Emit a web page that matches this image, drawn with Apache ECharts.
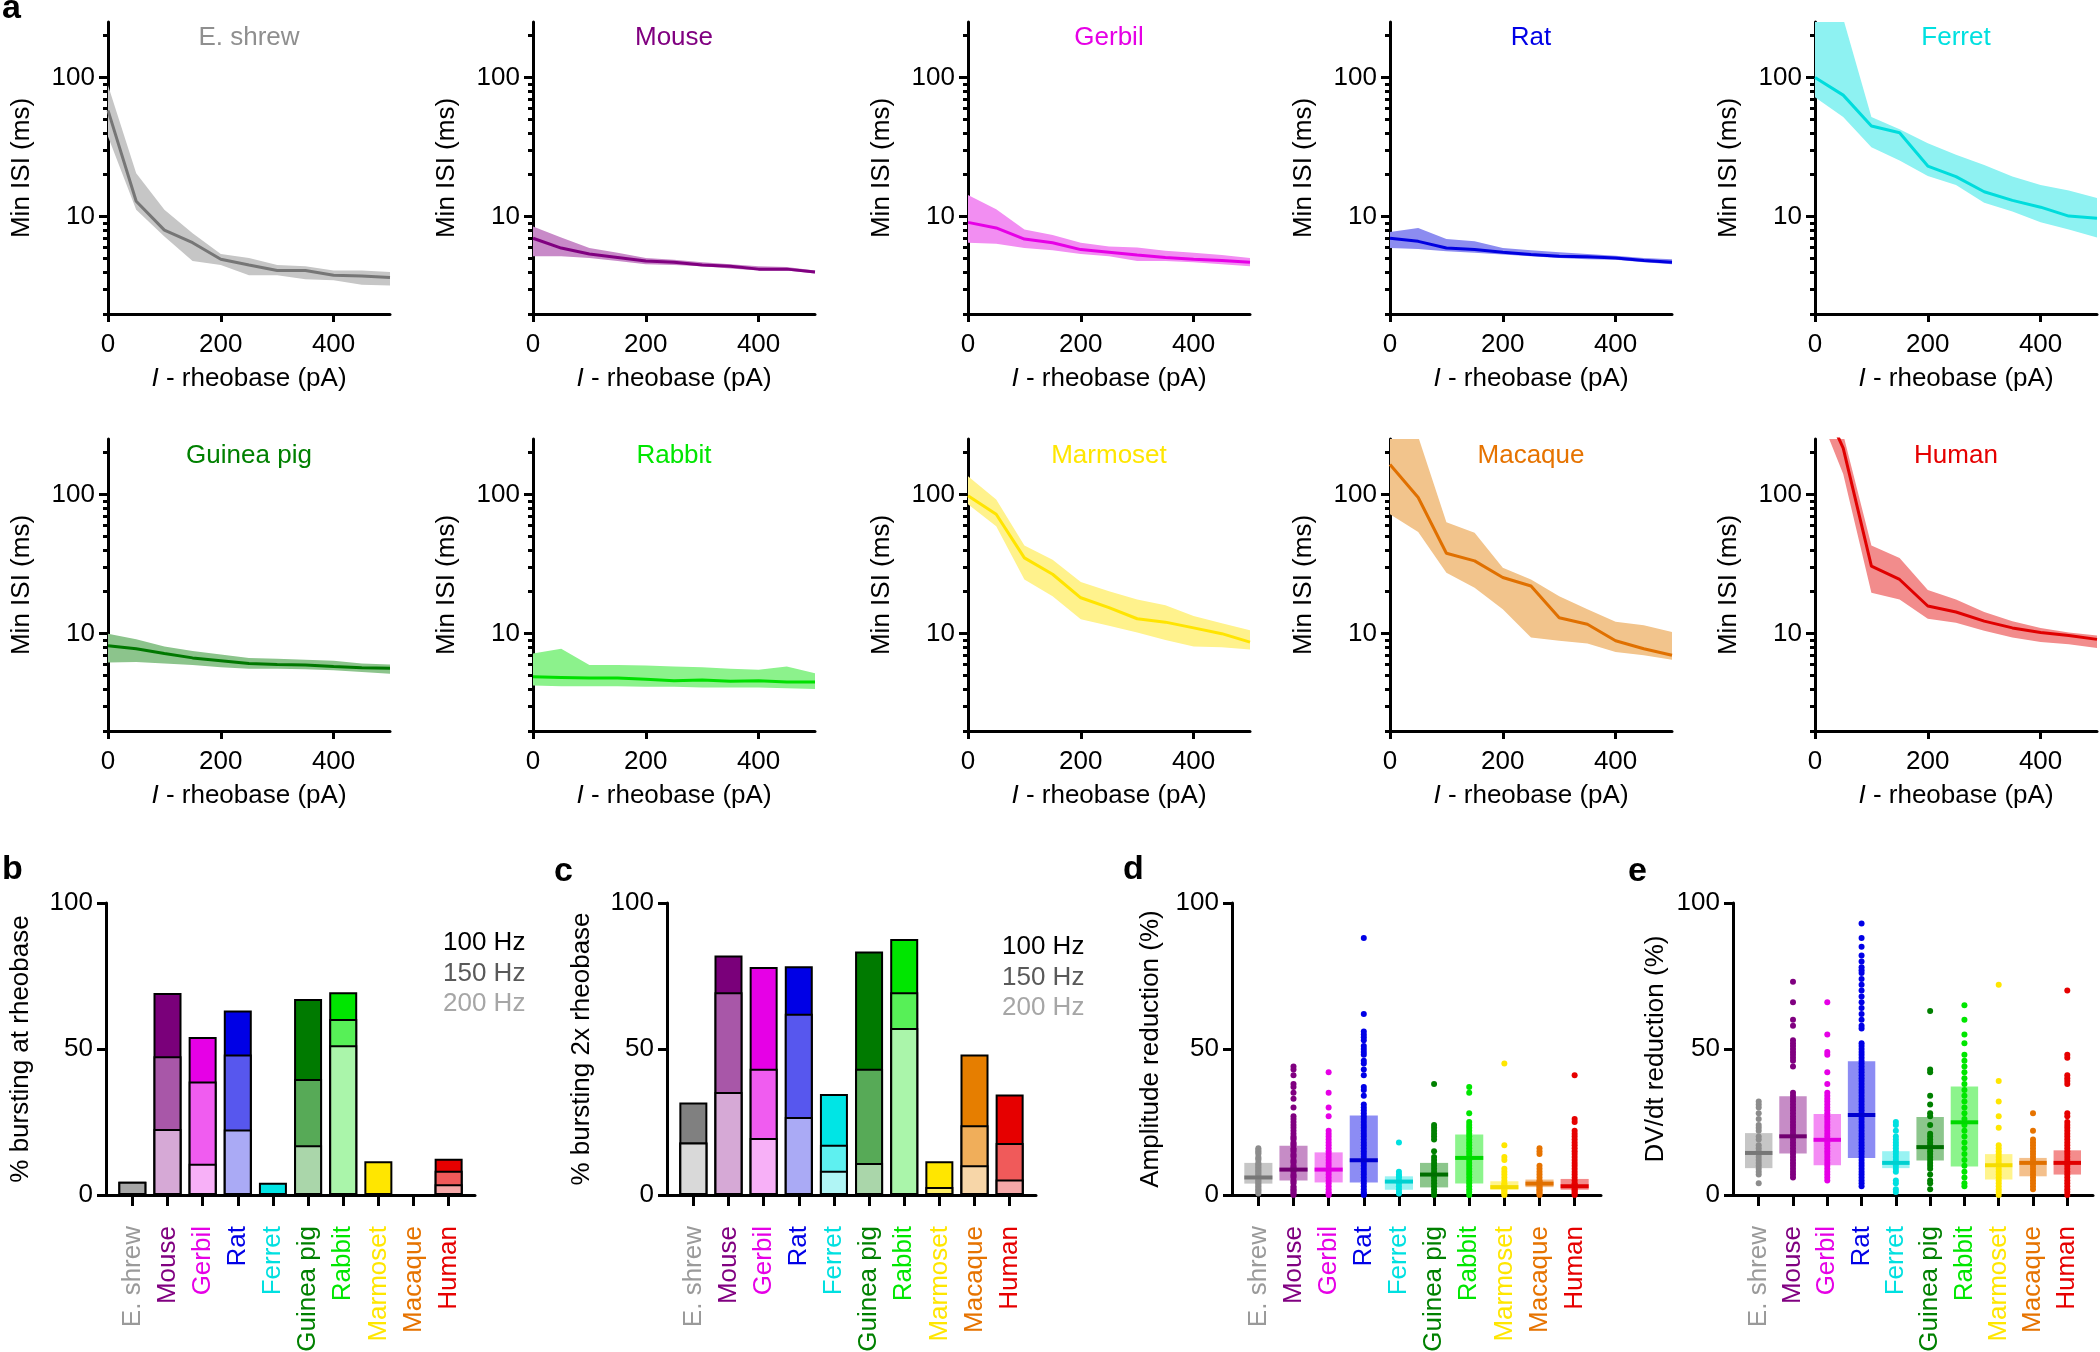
<!DOCTYPE html>
<html><head><meta charset="utf-8">
<script src="https://cdn.jsdelivr.net/npm/echarts@6/dist/echarts.min.js"></script>
<style>html,body{margin:0;padding:0;background:#fff}#c{width:2100px;height:1352px}</style>
</head><body><div id="c"></div>
<script>
// ---------------- DATA ----------------
const species = ['E. shrew','Mouse','Gerbil','Rat','Ferret','Guinea pig','Rabbit','Marmoset','Macaque','Human'];
const current = [0,50,100,150,200,250,300,350,400,450,500];
const currentTicks = [0,200,400];
const isiTicks = [10,100];
const isiMinorTicks = [2,3,4,5,6,7,8,9,20,30,40,50,60,70,80,90,200];
const pctTicks = [0,50,100];
const catIdx = [0,1,2,3,4,5,6,7,8,9];

// Min ISI (ms): mean, lower and upper band edge per species
const isiMean = [
 [58,12.9,8.0,6.5,4.95,4.5,4.1,4.1,3.8,3.75,3.66],
 [7.0,5.95,5.4,5.1,4.8,4.7,4.5,4.4,4.2,4.2,4.0],
 [9.1,8.3,6.9,6.5,5.8,5.55,5.3,5.1,4.95,4.85,4.7],
 [7.0,6.65,5.95,5.8,5.55,5.35,5.2,5.15,5.05,4.85,4.7],
 [100,74.6,44.8,40,23.1,19.4,15.1,13.1,11.7,10.1,9.75],
 [8.2,7.8,7.2,6.7,6.4,6.1,6.0,5.95,5.8,5.7,5.65],
 [4.9,4.85,4.8,4.8,4.7,4.6,4.65,4.55,4.6,4.5,4.5],
 [98,72,35,26.7,18.1,15.4,12.8,12.1,11.0,10.0,8.7],
 [164,95,37.8,33.3,25.3,22,13.0,11.7,8.9,7.8,7.0],
 [600,215,30.6,24.5,15.8,14.3,12.3,11.0,10.2,9.7,9.1]
];
const isiLow = [
 [37.6,11.2,7.2,4.8,4.5,3.8,3.8,3.56,3.5,3.25,3.2],
 [5.2,5.2,5.05,4.8,4.55,4.5,4.4,4.25,4.1,4.1,3.9],
 [6.5,6.4,5.95,5.75,5.4,5.2,4.8,4.8,4.7,4.55,4.4],
 [5.95,5.85,5.65,5.5,5.35,5.2,5.05,4.95,4.9,4.7,4.55],
 [72,52,31.5,25.3,19.6,16.9,12.6,10.9,9.1,8.1,7.1],
 [6.2,6.25,6.1,5.95,5.75,5.6,5.6,5.55,5.45,5.3,5.15],
 [4.25,4.2,4.2,4.2,4.15,4.15,4.1,4.1,4.1,4.05,4.0],
 [85,59,24.5,18.6,12.7,11.4,10.2,9.0,8.1,8.0,7.7],
 [72,53.7,27.4,21.4,15,9.4,8.9,8.5,7.4,7.0,6.5],
 [450,140,19.7,17.6,12.8,12.0,10.5,9.4,8.7,8.4,7.9]
];
const isiHigh = [
 [88,20.5,11.2,7.6,5.4,5.05,4.5,4.4,4.1,4.1,4.0],
 [8.5,7.1,5.95,5.5,5.05,4.9,4.7,4.55,4.4,4.35,4.1],
 [14.3,11.3,8.1,7.4,6.5,6.1,6.0,5.7,5.5,5.3,5.05],
 [7.75,8.3,6.9,6.65,5.95,5.75,5.55,5.4,5.25,5.05,4.95],
 [400,265,52,42.4,33.7,27.8,23.5,19.4,16.9,15.4,13.6],
 [10,9.1,8.1,7.5,7.1,6.7,6.6,6.5,6.4,6.1,6.0],
 [7.2,7.8,5.95,5.95,5.9,5.8,5.75,5.6,5.5,5.8,5.2],
 [135,92,43,34,23.5,20.2,17.6,16,13.4,11.9,10.6],
 [350,260,63,53,29.8,24.5,18.6,15,12.2,11.5,10.3],
 [900,270,43,35,20.6,17.6,14.3,12.3,11.0,10.2,9.7]
];

// % bursting (cumulative, by frequency threshold)
const rheo100 = [4.5,69.2,54.1,63.2,4.2,67.1,69.4,11.6,0,12.4];
const rheo150 = [4.5,47.5,38.9,48.1,0,39.7,60.3,0,0,8.3];
const rheo200 = [0,22.6,10.7,22.4,0,17.0,51.3,0,0,3.7];
const twox100 = [31.7,82.0,78.1,78.3,34.6,83.4,87.7,11.6,48.1,34.4];
const twox150 = [18.0,69.4,43.2,62.1,17.2,43.2,69.4,2.7,23.9,17.8];
const twox200 = [18.0,35.3,19.5,26.7,8.3,11.0,57.2,0,10.2,5.3];

// Amplitude reduction (%)
const ampQ1 = [3.9,5.0,4.3,4.3,1.8,2.6,3.9,1.8,2.7,1.8];
const ampMedian = [6.0,8.7,8.7,11.9,4.6,7.0,12.7,2.7,3.9,3.0];
const ampQ3 = [11.0,16.9,14.6,27.2,6.4,11.0,20.7,4.7,5.3,5.5];
const ampPoints = [
 [16,15.5,15,14.5,14,13,12.5,12,11,10.5,10,9.5,9,8.5,8,7.5,7,6.5,6,5.5,5,4.5,4,3.5,3,2.5,2,1.5,1,0.5],
 [44,43,41,38,37,35,33,30,27,26,25,24,23,22,21,20,19.5,19,18,17.5,17,16,15.5,15,14,13.5,13,12,11.5,11,10,9.5,9,8.5,8,7,6.5,6,5,4.5,4,3,2.5,2,1.5,1,0.5,0],
 [42,35,30,27,22,21,20,19,18,17,16,15,14,13,12,11,10,9,8,7,6,5,4,3,2,1,0.5,0],
 [88,62,56,55,54,53,51,50,49,48,46,45,43,41,37,36,34,31,30,29,28,27,26,25,24,23,22,21,20,19,18,17,16,15,14,13,12,11,10,9,8,7,6,5,4,3,2,1,0.5,0],
 [18,8,7,6.5,6,5,4.5,4,3,2,1,0.5],
 [38,24,23,22,21,20,19,15,13,12,11,10,9,8,7,6,5,4,3,2,1,0],
 [37,35,28,25,24,23,22,21,20,19,18,17,16,15,14,13,12,11,10,9,8,7,6,5,4,3,2,1,0],
 [45,17,13,12,9,8,7,6,5,4,3.5,3,2.5,2,1.5,1,0.5,0],
 [16,15,14,10,9,8,7,6,5,4.5,4,3.5,3,2.5,2,1.5,1,0.5,0],
 [41,26,25,22,21,20,19,18,17,16,15,14,13,12,11,10,9,8,7,6,5,4,3.5,3,2.5,2,1.5,1,0.5,0]
];

// DV/dt reduction (%)
const dvdtQ1 = [9.2,14.2,10.2,12.7,9.2,11.8,9.8,5.3,6.4,7.0];
const dvdtMedian = [14.4,20.1,18.9,27.4,11.0,16.4,24.9,10.2,11.0,11.0];
const dvdtQ3 = [21.2,33.8,27.7,45.8,15.0,26.7,37.2,14.0,12.7,15.3];
const dvdtPoints = [
 [32,31,30,28,26,24,23,22,20,19,17,16,15,14,13,12,11,10,9,8,7,4],
 [73,66,60,58,53,52,51,50,49,48,47,46,44,35,34,33,32,31,30,29,28,27,26,25,24,23,22,21,20,19,18,17,16,15,14,13,12,11,10,9,8,7,6],
 [66,55,49,48,42,38,35,34,33,32,31,30,29,28,27,26,25,24,23,22,21,20,19,18,17,16,15,14,13,12,11,10,9,8,7,6,5],
 [93,88,85,82,80,78,77,76,74,72,70,68,66,64,62,60,58,57,52,51,50,49,48,47,46,45,44,43,42,41,40,39,38,37,36,35,34,33,32,31,30,29,28,27,26,25,24,23,22,21,20,19,18,17,16,15,14,13,12,11,10,9,8,7,6,5,4,3],
 [25,24,22,20,19,18,17,16,15,14,13,12,11,10,9,8,5,4,2,1],
 [63,43,42,34,31,28,27,24,21,20,19,18,17,16,15,14,13,12,11,10,9,7,5,4,2],
 [65,60,55,52,48,46,44,42,40,38,36,34,32,30,28,26,24,22,20,18,16,14,12,10,8,6,4,3],
 [72,39,32,27,23,17,16,15,14,13,12,11,10,9,8,7,6,5,4,3,2,1,0],
 [28,22,19,18,17,16,15,14,13,12,11,10,9,8,7,6,5,4,3,2],
 [70,48,47,41,40,39,38,28,27,25,24,23,22,21,20,19,18,17,16,15,14,13,12,11,10,9,8,7,6,5,4,3,2,1,0]
];

// ---------------- STYLE ----------------
const FONT = '"Liberation Sans", Arial, Helvetica, sans-serif';
const titleColor = ['#8f8f8f','#800080','#e600e6','#0000e6','#00e0e0','#008000','#00e600','#ffe600','#e67300','#e60000'];
const labelColor = ['#9a9a9a','#800080','#e600e6','#0000e6','#00e0e0','#008000','#00e600','#ffe600','#e67300','#e60000'];
const lineColor = ['#767676','#800080','#e600e6','#0000e0','#00dcdc','#007800','#00e000','#ffe400','#e07000','#e00000'];
const bandColor = ['#c6c6c6','#c88ac8','#f28ef2','#8c8cf0','#8ef2f2','#8cc48c','#8cf28c','#fff28c','#f2c48c','#f28c8c'];
const darkC = ['#808080','#7a007a','#e600e6','#0000e6','#00e5e5','#007a00','#00e600','#ffe600','#e67e00','#e60000'];
const midC = ['#a6a6a6','#a857a8','#f05cf0','#5757ee','#5ef0f0','#57aa57','#57f057','#ffee66','#f0ae5a','#f05a5a'];
const lightC = ['#d9d9d9','#d6a9d6','#f7b0f7','#aaaaf5','#b0f5f5','#aad6aa','#aaf5aa','#fff5aa','#f7d6a8','#f5a8a8'];
const dotC = ['#8c8c8c','#800080','#e600e6','#0000e6','#00e0e0','#008000','#00e600','#ffe600','#e67300','#e60000'];
const boxC = ['rgba(128,128,128,0.45)','rgba(128,0,128,0.45)','rgba(230,0,230,0.45)','rgba(0,0,230,0.45)','rgba(0,224,224,0.4)','rgba(0,128,0,0.45)','rgba(0,230,0,0.45)','rgba(255,230,0,0.45)','rgba(230,115,0,0.45)','rgba(230,0,0,0.45)'];
const medC = ['#777777','#700070','#e000e0','#0000d0','#00d0d0','#006e00','#00d800','#f5dc00','#e07000','#e00000'];

const txt = (size, color) => ({fontSize: size, color: color || '#000', fontFamily: FONT});
const speciesRich = {};
species.forEach((s, i) => { speciesRich['s' + i] = {fontSize: 26, fontFamily: FONT, color: labelColor[i]}; });

const grids = [], xAxes = [], yAxes = [], series = [], graphics = [];

function gtext(text, x, y, opts) {
  opts = opts || {};
  graphics.push({
    type: 'text', x: x, y: y, silent: true, z: 100,
    style: {
      text: text, fill: opts.color || '#000',
      font: (opts.bold ? 'bold ' : '') + (opts.size || 26) + 'px ' + FONT,
      align: opts.align || 'left', verticalAlign: 'middle',
      textAlign: opts.align || 'left', textVerticalAlign: 'middle'
    }
  });
}

// ---------------- PANEL a ----------------
const topLefts = [108, 533, 968, 1390, 1815];
const rowTops = [22, 439];
const panelW = 282, panelH = 292;

species.forEach((sp, i) => {
  const row = Math.floor(i / 5), col = i % 5;
  const gi = grids.length;
  grids.push({left: topLefts[col], top: rowTops[row], width: panelW, height: panelH, outerBoundsMode: 'none'});
  xAxes.push({
    gridIndex: gi, type: 'value', min: 0, max: 500,
    name: '{i|I} - rheobase (pA)', nameLocation: 'middle', nameGap: 52, nameMoveOverlap: false,
    nameTextStyle: Object.assign(txt(26), {rich: {i: {fontStyle: 'italic', fontSize: 26, fontFamily: FONT, color: '#000'}}}),
    axisLine: {show: true, onZero: false, lineStyle: {color: '#000', width: 3}},
    axisTick: {show: true, customValues: currentTicks, length: 8, lineStyle: {color: '#000', width: 3}},
    axisLabel: Object.assign({customValues: currentTicks, margin: 18}, txt(26)),
    splitLine: {show: false}
  });
  const yi = yAxes.length;
  yAxes.push({
    gridIndex: gi, type: 'log', logBase: 10, min: 2, max: 250, position: 'left',
    name: 'Min ISI (ms)', nameLocation: 'middle', nameGap: 73, nameMoveOverlap: false,
    nameTextStyle: txt(26),
    axisLine: {show: true, onZero: false, lineStyle: {color: '#000', width: 3}},
    axisTick: {show: true, customValues: isiTicks, length: 9, lineStyle: {color: '#000', width: 3}},
    axisLabel: Object.assign({customValues: isiTicks, margin: 13}, txt(26)),
    splitLine: {show: false}, minorTick: {show: false}
  });
  yAxes.push({
    gridIndex: gi, type: 'log', logBase: 10, min: 2, max: 250, position: 'left',
    axisLine: {show: false}, axisLabel: {show: false},
    axisTick: {show: true, customValues: isiMinorTicks, length: 5, lineStyle: {color: '#000', width: 3}},
    splitLine: {show: false}
  });
  // shaded band: one polygon through upper edge then lower edge, via the axis scales
  series.push({
    type: 'custom', xAxisIndex: gi, yAxisIndex: yi, z: 1, silent: true, clip: true,
    data: current.map((x, k) => [x, isiLow[i][k], isiHigh[i][k]]),
    encode: {x: 0, y: [1, 2]},
    renderItem: (params, api) => {
      if (params.dataIndexInside !== 0) return null;
      const n = params.dataInsideLength;
      const up = [], lo = [];
      for (let k = 0; k < n; k++) {
        const x = api.value(0, k);
        up.push(api.coord([x, api.value(2, k)]));
        lo.push(api.coord([x, api.value(1, k)]));
      }
      const cs = params.coordSys;
      return {
        type: 'polygon',
        shape: {points: up.concat(lo.reverse())},
        style: {fill: bandColor[i]},
        clipPath: {type: 'rect', shape: {x: cs.x, y: cs.y, width: cs.width, height: cs.height}}
      };
    }
  });
  series.push({
    type: 'line', xAxisIndex: gi, yAxisIndex: yi, symbol: 'none', silent: true,
    lineStyle: {color: lineColor[i], width: 3}, z: 3, clip: true,
    data: current.map((x, k) => [x, isiMean[i][k]])
  });
  gtext(sp, topLefts[col] + panelW / 2, row === 0 ? 38 : 456, {color: titleColor[i], align: 'center'});
});

// ---------------- bottom panels ----------------
const botTop = 903, botH = 292;

function bottomAxes(left, width, yName, nameGap) {
  const gi = grids.length;
  grids.push({left: left, top: botTop, width: width, height: botH, outerBoundsMode: 'none'});
  xAxes.push({
    gridIndex: gi, type: 'value', min: -0.75, max: 9.75,
    axisLine: {show: true, onZero: false, lineStyle: {color: '#000', width: 3}},
    axisTick: {show: true, customValues: catIdx, length: 11, lineStyle: {color: '#000', width: 3}},
    axisLabel: {customValues: catIdx, rotate: 90, margin: 31, formatter: v => '{s' + v + '|' + species[v] + '}', rich: speciesRich, fontSize: 26, fontFamily: FONT},
    splitLine: {show: false}
  });
  yAxes.push({
    gridIndex: gi, type: 'value', min: 0, max: 100, interval: 50, position: 'left',
    name: yName, nameLocation: 'middle', nameGap: nameGap, nameMoveOverlap: false, nameTextStyle: txt(26),
    axisLine: {show: true, onZero: false, lineStyle: {color: '#000', width: 3}},
    axisTick: {show: true, length: 9, lineStyle: {color: '#000', width: 3}},
    axisLabel: Object.assign({margin: 13}, txt(26)),
    splitLine: {show: false}
  });
  return {xi: gi, yi: yAxes.length - 1};
}

function barSeries(ax, vals, colors, z) {
  series.push({
    type: 'bar', xAxisIndex: ax.xi, yAxisIndex: ax.yi, barWidth: 28, barGap: '-100%', z: z, silent: true,
    data: vals.map((v, i) => v > 0 ? {value: [i, v], itemStyle: {color: colors[i], borderColor: '#000', borderWidth: 2}} : null).filter(d => d)
  });
}

const axB = bottomAxes(106, 369, '% bursting at rheobase', 72);
barSeries(axB, rheo100, darkC, 2);
barSeries(axB, rheo150, midC, 3);
barSeries(axB, rheo200, lightC, 4);

const axC = bottomAxes(667, 369, '% bursting 2x rheobase', 72);
barSeries(axC, twox100, darkC, 2);
barSeries(axC, twox150, midC, 3);
barSeries(axC, twox200, lightC, 4);

function distPanel(ax, q1, med, q3, pts) {
  series.push({
    type: 'custom', xAxisIndex: ax.xi, yAxisIndex: ax.yi, z: 2, silent: true,
    data: species.map((s, i) => [i, q1[i], q3[i]]),
    encode: {x: 0, y: [1, 2]},
    renderItem: (params, api) => {
      const i = api.value(0);
      const a = api.coord([i - 0.4, api.value(2)]);
      const b = api.coord([i + 0.4, api.value(1)]);
      return {type: 'rect', shape: {x: a[0], y: a[1], width: b[0] - a[0], height: b[1] - a[1]}, style: {fill: boxC[i]}};
    }
  });
  const flat = [];
  pts.forEach((arr, i) => arr.forEach(v => flat.push([i, v])));
  series.push({
    type: 'scatter', xAxisIndex: ax.xi, yAxisIndex: ax.yi, z: 3, silent: true,
    symbolSize: 6, data: flat,
    itemStyle: {color: p => dotC[p.value[0]], opacity: 1}
  });
  series.push({
    type: 'custom', xAxisIndex: ax.xi, yAxisIndex: ax.yi, z: 4, silent: true,
    data: species.map((s, i) => [i, med[i]]),
    encode: {x: 0, y: 1},
    renderItem: (params, api) => {
      const i = api.value(0);
      const a = api.coord([i - 0.4, api.value(1)]);
      const b = api.coord([i + 0.4, api.value(1)]);
      return {type: 'line', shape: {x1: a[0], y1: a[1], x2: b[0], y2: b[1]}, style: {stroke: medC[i], lineWidth: 4}};
    }
  });
}

const axD = bottomAxes(1232, 369, 'Amplitude reduction (%)', 68);
distPanel(axD, ampQ1, ampMedian, ampQ3, ampPoints);
const axE = bottomAxes(1733, 360, 'DV/dt reduction (%)', 64);
distPanel(axE, dvdtQ1, dvdtMedian, dvdtQ3, dvdtPoints);

// panel letters
gtext('a', 2, 9, {bold: true, size: 34});
gtext('b', 2, 870, {bold: true, size: 34});
gtext('c', 554, 872, {bold: true, size: 34});
gtext('d', 1123, 870, {bold: true, size: 34});
gtext('e', 1628, 872, {bold: true, size: 34});

// frequency legends
const legendNames = ['100 Hz', '150 Hz', '200 Hz'];
const legendCols = ['#000000', '#595959', '#a6a6a6'];
legendNames.forEach((n, k) => {
  gtext(n, 443, 943 + k * 30.5, {color: legendCols[k]});
  gtext(n, 1002, 947 + k * 30.5, {color: legendCols[k]});
});

const chart = echarts.init(document.getElementById('c'), null, {renderer: 'canvas'});
chart.setOption({
  animation: false,
  backgroundColor: '#fff',
  grid: grids, xAxis: xAxes, yAxis: yAxes, series: series,
  graphic: {elements: graphics}
});
</script></body></html>
